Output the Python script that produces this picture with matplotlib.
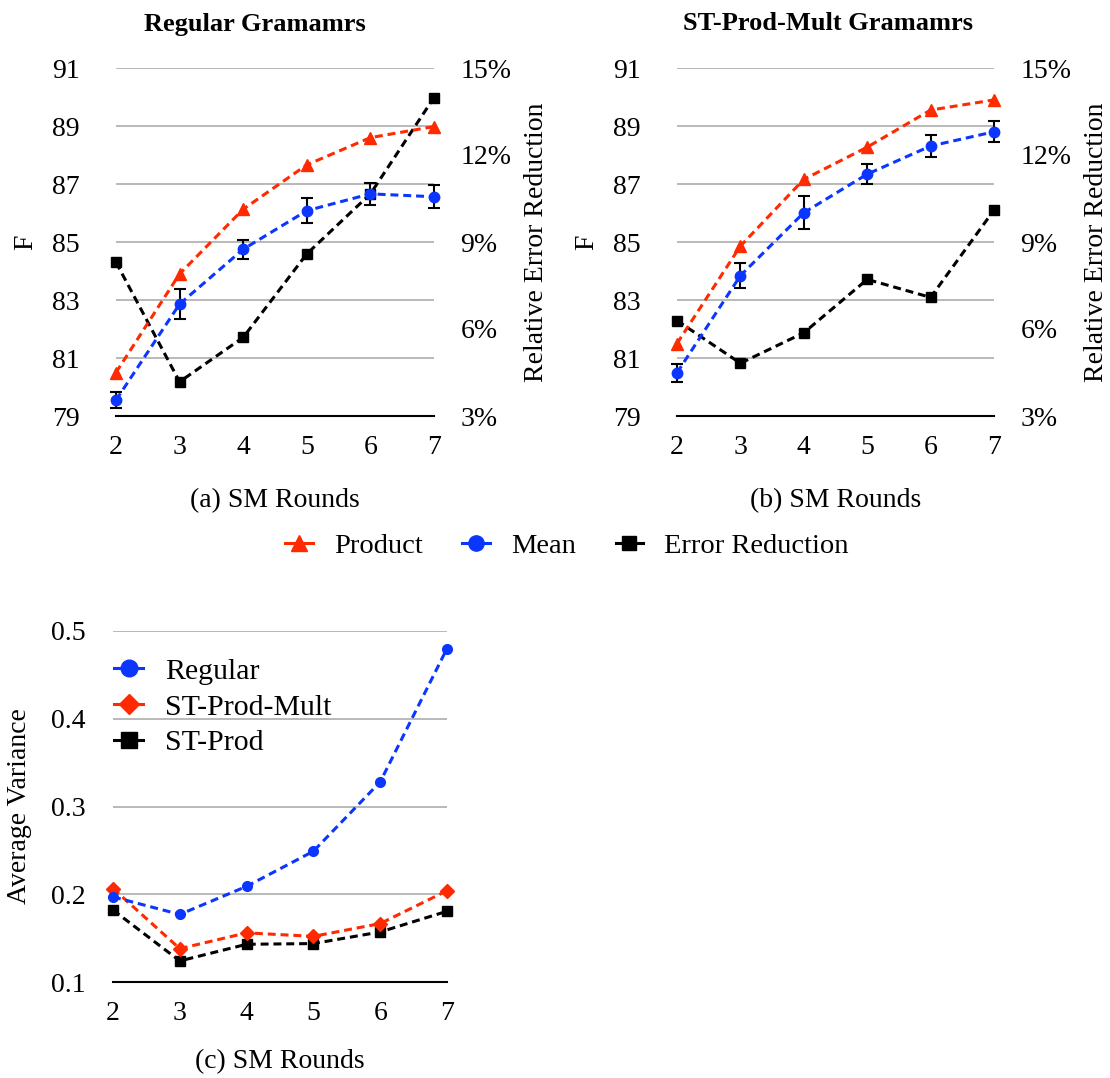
import matplotlib.pyplot as plt
from matplotlib.ticker import FuncFormatter

rounds = [2, 3, 4, 5, 6, 7]

# (a) Regular grammars
reg_product = [80.5, 83.9, 86.13, 87.66, 88.6, 88.98]
reg_mean = [79.55, 82.86, 84.75, 86.08, 86.66, 86.56]
reg_mean_err = [0.29, 0.52, 0.32, 0.43, 0.37, 0.40]
reg_err_red = [8.3, 4.18, 5.71, 8.59, 10.66, 13.98]

# (b) ST-Prod-Mult grammars
stm_product = [81.5, 84.86, 87.16, 88.27, 89.55, 89.9]
stm_mean = [80.49, 83.84, 86.01, 87.34, 88.31, 88.8]
stm_mean_err = [0.32, 0.43, 0.57, 0.34, 0.38, 0.36]
stm_err_red = [6.29, 4.82, 5.87, 7.71, 7.09, 10.1]

# (c) Average variance
var_regular = [0.197, 0.177, 0.209, 0.249, 0.328, 0.480]
var_stprodmult = [0.2065, 0.138, 0.156, 0.152, 0.1666, 0.204]
var_stprod = [0.182, 0.124, 0.143, 0.1438, 0.157, 0.1806]

RED = '#FF2A00'
BLUE = '#0A36FF'
GRID = '#B3B3B3'
FS = 20

plt.rcParams['font.family'] = ['Liberation Serif', 'DejaVu Serif']
plt.rcParams['font.size'] = FS

fig = plt.figure(figsize=(11.1, 10.78), dpi=100)
W, H = 1110.0, 1078.0


def box(x0, y0, x1, y1):
    return [x0 / W, 1 - y1 / H, (x1 - x0) / W, (y1 - y0) / H]


def style(ax):
    for s in ['top', 'right', 'left']:
        ax.spines[s].set_visible(False)
    ax.spines['bottom'].set_linewidth(1.5)
    ax.tick_params(length=0)
    ax.yaxis.grid(True, color=GRID, linewidth=1.3)
    ax.set_axisbelow(True)


dash = dict(linestyle=(0, (2.6, 1.6)), linewidth=2.2, clip_on=False)


def panel(rect, product, mean, err, errred, label):
    ax = fig.add_axes(box(*rect))
    style(ax)
    ax.set_xlim(2, 7)
    ax.set_ylim(79, 91)
    ax.set_yticks(range(79, 92, 2))
    ax.set_xticks(rounds)
    ax.tick_params(axis='y', pad=26)
    ax.tick_params(axis='x', pad=14)
    ax.set_ylabel('F')
    ax.yaxis.set_label_coords(-0.245, 0.5)
    ax.set_xlabel(label, labelpad=20)
    ax2 = ax.twinx()
    for s in ['top', 'right', 'left', 'bottom']:
        ax2.spines[s].set_visible(False)
    ax2.tick_params(length=0, pad=19)
    ax2.set_ylim(3, 15)
    ax2.set_yticks([3, 6, 9, 12, 15])
    ax2.yaxis.set_major_formatter(FuncFormatter(lambda v, p: '%d%%' % v))
    ax2.set_ylabel('Relative Error Reduction')
    ax2.yaxis.set_label_coords(1.283, 0.5)
    ax2.plot(rounds, errred, color='black', marker='s', markersize=6.5,
             zorder=3, **dash)
    ax2.plot(rounds, product, color=RED, marker='^', markersize=8,
             transform=ax.transData, zorder=4, **dash)
    ax2.errorbar(rounds, mean, yerr=err, color=BLUE, marker='o', markersize=7.5,
                 ecolor='black', elinewidth=1.5, capsize=4, capthick=1.5,
                 transform=ax.transData, zorder=5, **dash)
    return ax, ax2


panel((116, 68, 434, 416), reg_product, reg_mean, reg_mean_err, reg_err_red,
      '(a) SM Rounds')
panel((677, 68, 994, 416), stm_product, stm_mean, stm_mean_err, stm_err_red,
      '(b) SM Rounds')

fig.text(255 / W, 1 - 24 / H, 'Regular Gramamrs', ha='center', va='center',
         fontweight='bold', fontsize=19)
fig.text(828 / W, 1 - 24 / H, 'ST-Prod-Mult Gramamrs', ha='center', va='center',
         fontweight='bold', fontsize=19)

# shared legend
h1, = plt.plot([], [], color=RED, marker='^', markersize=11, linewidth=2.2)
h2, = plt.plot([], [], color=BLUE, marker='o', markersize=11, linewidth=2.2)
h3, = plt.plot([], [], color='black', marker='s', markersize=10, linewidth=2.2)
fig.legend([h1, h2, h3], ['Product', 'Mean', 'Error Reduction'],
           loc='center', bbox_to_anchor=(567 / W, 1 - 546 / H), ncol=3,
           frameon=False, handlelength=0.95, handletextpad=0.75,
           columnspacing=1.4, fontsize=20.5)

# (c)
axc = fig.add_axes(box(113, 631, 447, 982))
style(axc)
axc.set_xlim(2, 7)
axc.set_ylim(0.1, 0.5)
axc.set_yticks([0.1, 0.2, 0.3, 0.4, 0.5])
axc.set_xticks(rounds)
axc.tick_params(axis='y', pad=20)
axc.tick_params(axis='x', pad=14)
axc.set_ylabel('Average Variance')
axc.yaxis.set_label_coords(-0.243, 0.5)
axc.set_xlabel('(c) SM Rounds', labelpad=16)
axc.plot(rounds, var_regular, color=BLUE, marker='o', markersize=7,
         label='Regular', zorder=5, **dash)
axc.plot(rounds, var_stprodmult, color=RED, marker='D', markersize=7,
         label='ST-Prod-Mult', zorder=4, **dash)
axc.plot(rounds, var_stprod, color='black', marker='s', markersize=7,
         label='ST-Prod', zorder=3, **dash)
leg_h = [plt.Line2D([], [], color=c, marker=m, markersize=ms, linewidth=2.2)
         for c, m, ms in [(BLUE, 'o', 12), (RED, 'D', 10), ('black', 's', 11)]]
axc.legend(leg_h, ['Regular', 'ST-Prod-Mult', 'ST-Prod'], loc='upper left',
           bbox_to_anchor=(-0.076, 1.0), frameon=False, handlelength=0.95,
           handletextpad=0.75, labelspacing=0.3, fontsize=21.5)

fig.savefig('out.png', dpi=100)
